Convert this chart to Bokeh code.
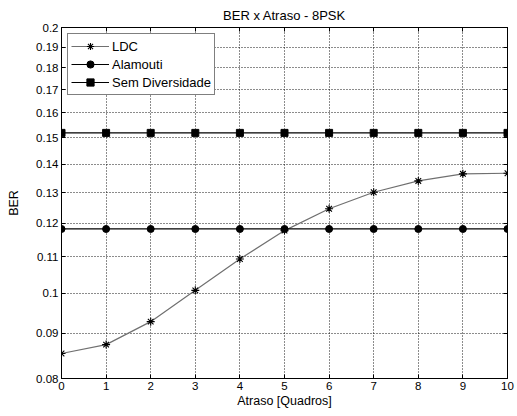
from bokeh.plotting import figure
from bokeh.models import (FixedTicker, CustomJSTickFormatter, LinearAxis, LogAxis,
                          Legend, LegendItem)
from bokeh.embed import file_html
from bokeh.resources import INLINE

atraso = [0, 1, 2, 3, 4, 5, 6, 7, 8, 9, 10]
ldc = [0.0854, 0.0874, 0.0928, 0.1007, 0.1093, 0.1177, 0.1246, 0.1301, 0.1340, 0.1365, 0.1367]
alamouti = [0.1182] * 11
sem_div = [0.1519] * 11
x_ticks = [0, 1, 2, 3, 4, 5, 6, 7, 8, 9, 10]
y_ticks = [0.08, 0.09, 0.10, 0.11, 0.12, 0.13, 0.14, 0.15, 0.16, 0.17, 0.18, 0.19, 0.20]

FONT = "Liberation Sans"

p = figure(width=517, height=416, x_range=(0, 10), y_range=(0.08, 0.2),
           y_axis_type="log", output_backend="svg", toolbar_location=None,
           min_border_left=61, min_border_right=10, min_border_top=25,
           min_border_bottom=38, title="BER x Atraso - 8PSK")
p.title.align = "center"
p.title.text_font = FONT
p.title.text_font_size = "13px"
p.title.text_font_style = "normal"
p.title.text_color = "black"
p.outline_line_color = "black"
p.outline_line_width = 1
p.background_fill_color = "white"
p.border_fill_color = "white"

fmt = CustomJSTickFormatter(code="return String(Number(tick.toFixed(2)));")
blank = CustomJSTickFormatter(code="return '';")

p.xaxis.ticker = FixedTicker(ticks=x_ticks)
p.yaxis.ticker = FixedTicker(ticks=y_ticks)
p.yaxis.formatter = fmt
p.xaxis.axis_label = "Atraso [Quadros]"
p.yaxis.axis_label = "BER"
for ax in (p.xaxis[0], p.yaxis[0]):
    ax.major_tick_in = 4
    ax.major_tick_out = 0
    ax.minor_tick_line_color = None
    ax.axis_line_color = "black"
    ax.major_tick_line_color = "black"
    ax.major_label_text_font = FONT
    ax.major_label_text_font_size = "11.5px"
    ax.major_label_text_color = "black"
    ax.axis_label_text_font = FONT
    ax.axis_label_text_font_size = "12.5px"
    ax.axis_label_text_font_style = "normal"
    ax.axis_label_text_color = "black"
p.xaxis.major_label_standoff = 3
p.xaxis.axis_label_standoff = 1
p.yaxis.major_label_standoff = 3
p.yaxis.axis_label_standoff = 12

top = LinearAxis(ticker=FixedTicker(ticks=x_ticks), formatter=blank,
                 major_tick_in=4, major_tick_out=0, minor_tick_line_color=None,
                 axis_line_color="black", major_label_standoff=0)
p.add_layout(top, "above")
right = LogAxis(ticker=FixedTicker(ticks=y_ticks), formatter=blank,
                major_tick_in=4, major_tick_out=0, minor_tick_line_color=None,
                axis_line_color="black", major_label_standoff=0)
p.add_layout(right, "right")

p.xgrid.ticker = FixedTicker(ticks=x_ticks)
p.ygrid.ticker = FixedTicker(ticks=y_ticks)
for g in (p.xgrid[0], p.ygrid[0]):
    g.grid_line_color = "black"
    g.grid_line_dash = "1 2"
    g.grid_line_width = 1
    g.grid_line_alpha = 0.9

l1 = p.line(atraso, ldc, line_color="#707070", line_width=1.2)
m1 = p.scatter(atraso, ldc, marker="asterisk", size=8, line_color="black", line_width=1.1)
l2 = p.line(atraso, alamouti, line_color="black", line_width=1.2)
m2 = p.scatter(atraso, alamouti, marker="circle", size=7, line_color="black", fill_color="black")
l3 = p.line(atraso, sem_div, line_color="black", line_width=1.2)
m3 = p.scatter(atraso, sem_div, marker="square", size=7, line_color="black", fill_color="black")

legend = Legend(items=[LegendItem(label="LDC", renderers=[l1, m1]),
                       LegendItem(label="Alamouti", renderers=[l2, m2]),
                       LegendItem(label="Sem Diversidade", renderers=[l3, m3])],
                location="top_left")
legend.margin = 6
legend.padding = 3
legend.spacing = 0
legend.glyph_width = 38
legend.glyph_height = 18
legend.label_height = 18
legend.label_standoff = 3
legend.label_text_font = FONT
legend.label_text_font_size = "13px"
legend.label_text_color = "black"
legend.border_line_color = "black"
legend.border_line_width = 1
legend.background_fill_color = "white"
legend.background_fill_alpha = 1
p.add_layout(legend, "center")

open("out.html", "w").write(file_html(p, INLINE))
